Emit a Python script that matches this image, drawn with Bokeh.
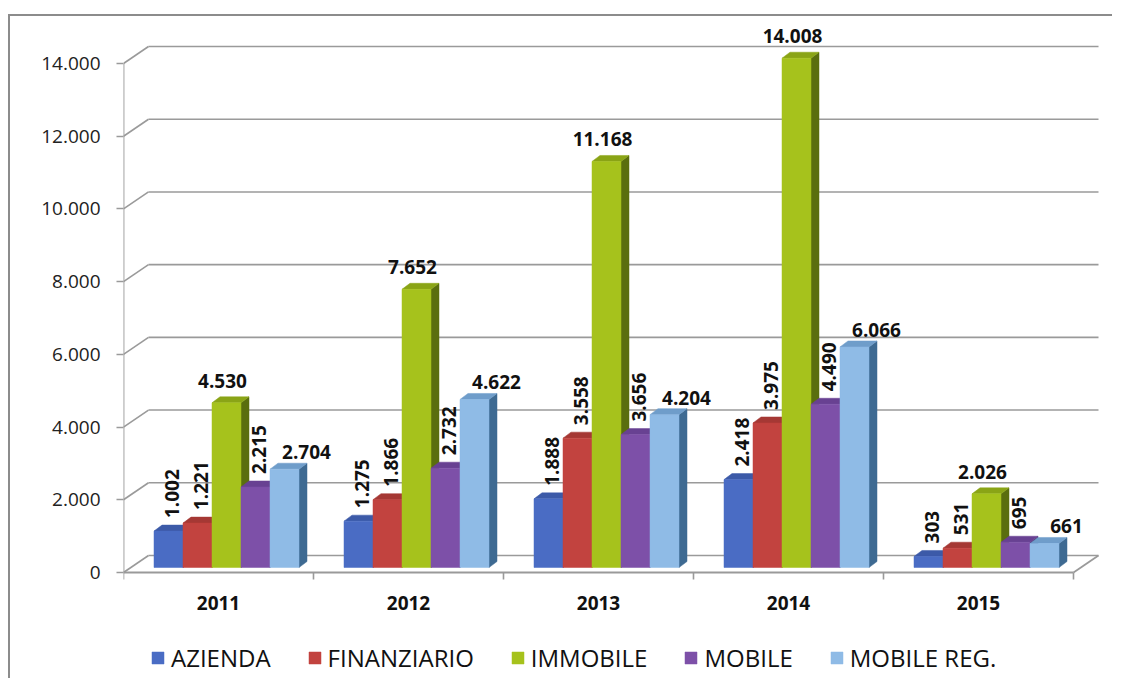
import math
from bokeh.plotting import figure
from bokeh.models import Range1d, FixedTicker, ColumnDataSource, Legend, LegendItem
from bokeh.core.properties import value
from bokeh.embed import file_html
from bokeh.resources import INLINE

# ---------------- data ----------------
years = ["2011", "2012", "2013", "2014", "2015"]
series = ["AZIENDA", "FINANZIARIO", "IMMOBILE", "MOBILE", "MOBILE REG."]
azienda = [1002, 1275, 1888, 2418, 303]
finanziario = [1221, 1866, 3558, 3975, 531]
immobile = [4530, 7652, 11168, 14008, 2026]
mobile = [2215, 2732, 3656, 4490, 695]
mobile_reg = [2704, 4622, 4204, 6066, 661]
y_ticks = [0, 2000, 4000, 6000, 8000, 10000, 12000, 14000]

values = [azienda, finanziario, immobile, mobile, mobile_reg]

# ---------------- styles ----------------
front_colors = ["#4a6cc4", "#c2433f", "#a6c21c", "#7d50a8", "#8fbbe6"]
top_colors = ["#3c5aa8", "#a53834", "#8aa416", "#684192", "#6f9dca"]
side_colors = ["#2c4584", "#7e2a27", "#5a6e0e", "#4c2f6c", "#3e6a92"]
label_mode = ["v", "v", "c", "v", "r"]

FONT = value("Open Sans")
GRID = "#9a9a9a"

# pixel -> data conversions
PX_X = 1.0 / 190.0
PX_Y = 14000.0 / 509.0
X0 = -0.5
X1 = len(years) - 0.5
WX, WY = 25 * PX_X, 17 * PX_Y      # back wall depth
BX, BY = 8 * PX_X, 5 * PX_Y        # bar front offset
DX, DY = 8 * PX_X, 6 * PX_Y        # bar depth
BW = 29 * PX_X                     # bar width

# frame in page px: left 124, right 1115, top 20, bottom 680 ; value 0 at 572
p = figure(width=1104, height=664, output_backend="svg", toolbar_location=None,
           x_range=Range1d(X0, X0 + (1115 - 124) * PX_X),
           y_range=Range1d(-(680 - 572) * PX_Y, (572 - 20) * PX_Y),
           min_border_left=113, min_border_right=0, min_border_top=4, min_border_bottom=0)
p.margin = (14, 0, 0, 8)
p.styles = {"border-top": "2px solid #8c8c8c", "border-left": "2px solid #8c8c8c"}
p.outline_line_color = None
p.xgrid.visible = False
p.ygrid.visible = False
p.background_fill_color = "white"
p.border_fill_color = "white"

# ---------------- walls / floor ----------------
sl = dict(x0=[X0] * len(y_ticks), y0=list(y_ticks),
          x1=[X0 + WX] * len(y_ticks), y1=[t + WY for t in y_ticks])
p.segment(x0="x0", y0="y0", x1="x1", y1="y1", source=ColumnDataSource(sl),
          line_color=GRID, line_width=1.6)
hz = dict(x0=[X0 + WX] * len(y_ticks), y0=[t + WY for t in y_ticks],
          x1=[X1 + WX] * len(y_ticks), y1=[t + WY for t in y_ticks])
p.segment(x0="x0", y0="y0", x1="x1", y1="y1", source=ColumnDataSource(hz),
          line_color=GRID, line_width=1.6)
fl = dict(x0=[X0, X1, X0], y0=[0, 0, 0], x1=[X1, X1 + WX, X0], y1=[0, WY, y_ticks[-1]])
p.segment(x0="x0", y0="y0", x1="x1", y1="y1", source=ColumnDataSource(fl),
          line_color=GRID, line_width=1.8)

# ---------------- bars ----------------
fronts = []
lab_v = dict(x=[], y=[], t=[])
lab_c = dict(x=[], y=[], t=[])
for j, vals in enumerate(values):
    L = [i - 2.5 * BW + j * BW + BX for i in range(len(years))]
    R = [l + BW for l in L]
    T = [v + BY for v in vals]
    side = dict(xs=[[r, r + DX, r + DX, r] for r in R],
                ys=[[BY, BY + DY, t + DY, t] for t in T])
    top = dict(xs=[[l, r, r + DX, l + DX] for l, r in zip(L, R)],
               ys=[[t, t, t + DY, t + DY] for t in T])
    p.patches(xs="xs", ys="ys", source=ColumnDataSource(side),
              fill_color=side_colors[j], line_color=side_colors[j], line_width=0.5)
    p.patches(xs="xs", ys="ys", source=ColumnDataSource(top),
              fill_color=top_colors[j], line_color=top_colors[j], line_width=0.5)
    fr = p.quad(left=L, right=R, bottom=[BY] * len(L), top=T,
                fill_color=front_colors[j], line_color=front_colors[j], line_width=0.5)
    fronts.append(fr)
    for l, v, t in zip(L, vals, T):
        txt = f"{v:,}".replace(",", ".")
        cx = l + BW / 2
        if label_mode[j] == "v":
            lab_v["x"].append(cx + 3 * PX_X)
            lab_v["y"].append(t + 13 * PX_Y)
            lab_v["t"].append(txt)
        elif label_mode[j] == "c":
            lab_c["x"].append(cx - 4 * PX_X)
            lab_c["y"].append(t + 22 * PX_Y)
            lab_c["t"].append(txt)
        else:
            lab_c["x"].append(cx + 22 * PX_X)
            lab_c["y"].append(t + 17 * PX_Y)
            lab_c["t"].append(txt)

p.text(x="x", y="y", text="t", source=ColumnDataSource(lab_v), angle=math.pi / 2,
       text_align="left", text_baseline="middle", text_font=FONT,
       text_font_style="bold", text_font_size="19px", text_color="#111111")
p.text(x="x", y="y", text="t", source=ColumnDataSource(lab_c),
       text_align="center", text_baseline="middle", text_font=FONT,
       text_font_style="bold", text_font_size="19px", text_color="#111111")

# ---------------- axes ----------------
ya = p.yaxis[0]
ya.ticker = FixedTicker(ticks=y_ticks)
ya.major_label_overrides = {t: f"{t:,}".replace(",", ".") for t in y_ticks}
ya.axis_line_color = None
ya.major_tick_out = 7
ya.major_tick_in = 0
ya.minor_tick_out = 0
ya.minor_tick_in = 0
ya.major_tick_line_color = GRID
ya.major_tick_line_width = 1.6
ya.major_label_standoff = 16
ya.major_label_text_font = "Open Sans"
ya.major_label_text_font_size = "19px"
ya.major_label_text_color = "#222222"

xa = p.xaxis[0]
xa.fixed_location = 0
xa.ticker = FixedTicker(ticks=list(range(len(years))),
                        minor_ticks=[i - 0.5 for i in range(len(years) + 1)])
xa.major_label_overrides = {i: y for i, y in enumerate(years)}
xa.axis_line_color = None
xa.major_tick_out = 0
xa.major_tick_in = 0
xa.minor_tick_out = 7
xa.minor_tick_in = 0
xa.minor_tick_line_color = GRID
xa.minor_tick_line_width = 1.6
xa.major_label_standoff = 16
xa.major_label_text_font = "Open Sans"
xa.major_label_text_font_style = "bold"
xa.major_label_text_font_size = "19px"
xa.major_label_text_color = "#111111"

# ---------------- legend ----------------
legend = Legend(items=[LegendItem(label=s, renderers=[r]) for s, r in zip(series, fronts)],
                orientation="horizontal", location=(27, 6),
                border_line_color=None, background_fill_alpha=0,
                padding=0, margin=0, spacing=36, label_standoff=6,
                glyph_width=15, glyph_height=15, label_height=28,
                label_text_font="Open Sans", label_text_font_size="24px",
                label_text_color="#111111", label_text_baseline="middle")
p.add_layout(legend)

open("out.html", "w").write(file_html(p, INLINE))
